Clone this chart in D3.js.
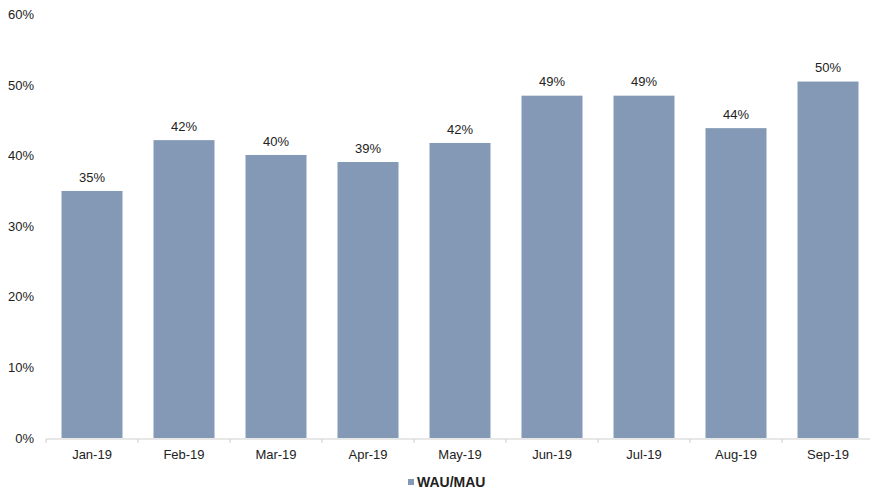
<!DOCTYPE html>
<html><head><meta charset="utf-8">
<script src="https://cdn.jsdelivr.net/npm/d3@7"></script>
<style>body{margin:0;background:#fff}svg{display:block;font-family:"Liberation Sans",Arial,sans-serif}</style>
</head><body><svg id="c" width="873" height="493"></svg>
<script>
const categories = ["Jan-19","Feb-19","Mar-19","Apr-19","May-19","Jun-19","Jul-19","Aug-19","Sep-19"];
const values = [0.350, 0.422, 0.401, 0.391, 0.418, 0.485, 0.485, 0.439, 0.505];
const valueLabels = ["35%","42%","40%","39%","42%","49%","49%","44%","50%"];
const yTicks = [0, 0.1, 0.2, 0.3, 0.4, 0.5, 0.6];
const seriesName = "WAU/MAU";

const svg = d3.select("#c");
const x = d3.scaleBand().domain(categories).range([46, 874]).paddingInner(0.337).paddingOuter(0.1685);
const y = d3.scaleLinear().domain([0, 0.6]).range([438, 14.5]);
const color = "#8399b5";

// y labels
svg.append("g").selectAll("text").data(yTicks).join("text")
  .attr("x", 34).attr("y", d => y(d)).attr("dy", "0.35em")
  .attr("text-anchor", "end").attr("font-size", 13).attr("fill", "#222")
  .text(d => d3.format(".0%")(d));

// bars
svg.append("g").selectAll("rect").data(values).join("rect")
  .attr("x", (d,i) => x(categories[i])).attr("width", x.bandwidth())
  .attr("y", d => y(d)).attr("height", d => y(0) - y(d)).attr("fill", color);

// value labels
svg.append("g").selectAll("text").data(values).join("text")
  .attr("x", (d,i) => x(categories[i]) + x.bandwidth()/2).attr("y", d => y(d) - 14).attr("dy", "0.35em")
  .attr("text-anchor", "middle").attr("font-size", 13).attr("fill", "#222")
  .text((d,i) => valueLabels[i]);

// x axis line and ticks
const step = x.step();
const ax = svg.append("g");
ax.append("line").attr("x1", 46).attr("x2", 870).attr("y1", 439).attr("y2", 439).attr("stroke", "#cfcfcf");
ax.selectAll(".t").data(d3.range(categories.length)).join("line")
  .attr("x1", i => 46 + i*step).attr("x2", i => 46 + i*step)
  .attr("y1", 439).attr("y2", 443).attr("stroke", "#cfcfcf");
ax.selectAll("text").data(categories).join("text")
  .attr("x", d => x(d) + x.bandwidth()/2).attr("y", 454).attr("dy", "0.35em")
  .attr("text-anchor", "middle").attr("font-size", 13).attr("fill", "#222").text(d => d);

// legend
const lg = svg.append("g");
lg.append("rect").attr("x", 408).attr("y", 479).attr("width", 6).attr("height", 6).attr("fill", color);
lg.append("text").attr("x", 417).attr("y", 482).attr("dy", "0.35em").attr("font-size", 14)
  .attr("font-weight", "bold").attr("fill", "#222").text(seriesName);
</script></body></html>
